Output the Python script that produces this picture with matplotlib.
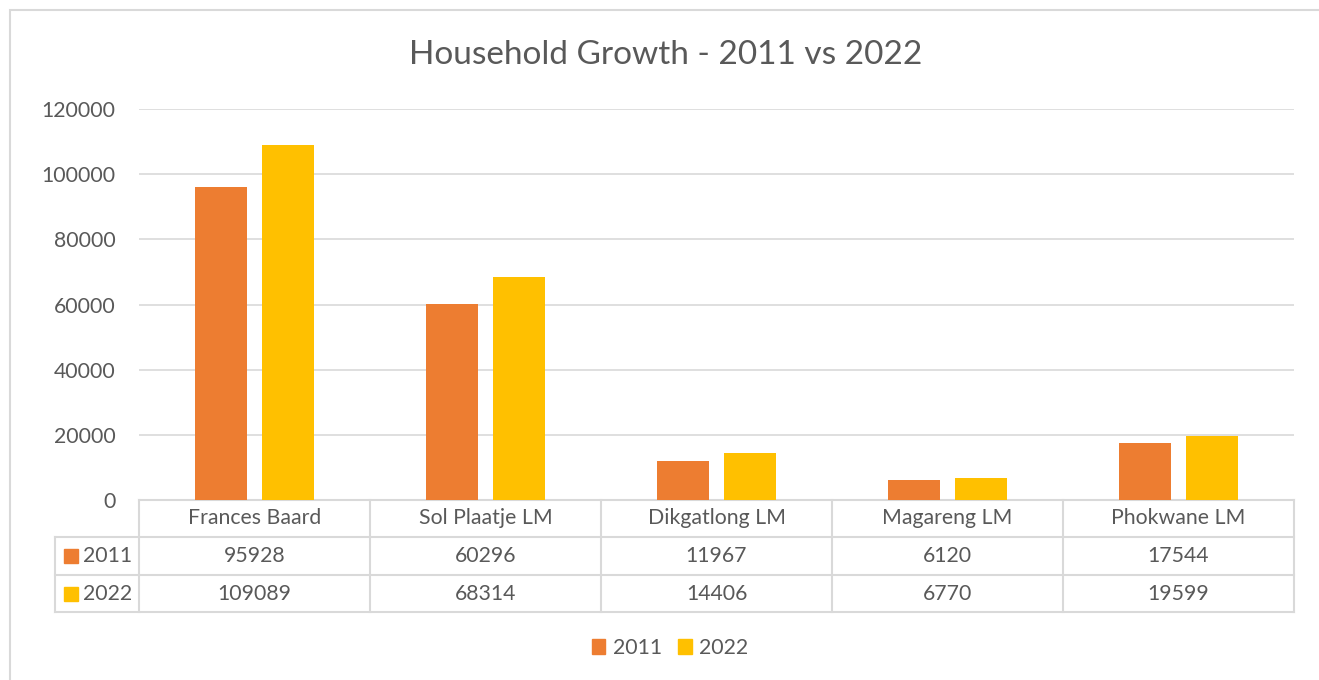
import matplotlib
matplotlib.use("Agg")
import matplotlib.pyplot as plt
import matplotlib.transforms as mtransforms
from matplotlib.patches import Patch, Rectangle
from matplotlib.lines import Line2D
import numpy as np

plt.rcParams['font.family'] = ['Lato', 'DejaVu Sans']

categories = ["Frances Baard", "Sol Plaatje LM", "Dikgatlong LM", "Magareng LM", "Phokwane LM"]
series_names = ["2011", "2022"]
values_2011 = [95928, 60296, 11967, 6120, 17544]
values_2022 = [109089, 68314, 14406, 6770, 19599]
yticks = [0, 20000, 40000, 60000, 80000, 100000, 120000]
title = "Household Growth - 2011 vs 2022"

c2011 = "#ED7D31"
c2022 = "#FFC000"
txt = "#595959"
grid = "#D9D9D9"
fs = 15.3

W, H = 1319, 680
fig = plt.figure(figsize=(W / 100, H / 100), dpi=100)
ax = fig.add_axes([139 / W, 1 - 500 / H, (1294 - 139) / W, (500 - 109) / H])

x = np.arange(len(categories))
bw = 0.225
off = 0.143
ax.bar(x - off, values_2011, bw, color=c2011, zorder=3)
ax.bar(x + off, values_2022, bw, color=c2022, zorder=3)

ax.set_xlim(-0.5, len(categories) - 0.5)
ax.set_ylim(0, 120000)
ax.set_yticks(yticks)
ax.set_yticklabels([str(v) for v in yticks])
ax.tick_params(axis='y', length=0, pad=17, labelsize=fs, labelcolor=txt)
ax.set_xticks([])
for s in ax.spines.values():
    s.set_visible(False)
ax.grid(axis='y', color=grid, lw=1.2, zorder=0)
ax.set_axisbelow(True)

fig.text(666 / W, 1 - 55 / H, title, ha='center', va='center', fontsize=24, color=txt)

# data table
tr = mtransforms.blended_transform_factory(ax.transData, ax.transAxes)
ah = 391.0
y0 = 0.0
y1 = -37 / ah
y2 = -75 / ah
y3 = -112 / ah
xl = -0.5 - 84 / 231.0
xr = len(categories) - 0.5
lk = dict(color=grid, lw=1.5, transform=tr, clip_on=False, zorder=1)
ax.add_line(Line2D([-0.5, xr], [y0, y0], **lk))
ax.add_line(Line2D([xl, xr], [y1, y1], **lk))
ax.add_line(Line2D([xl, xr], [y2, y2], **lk))
ax.add_line(Line2D([xl, xr], [y3, y3], **lk))
for i in range(len(categories) + 1):
    ax.add_line(Line2D([i - 0.5, i - 0.5], [y0, y3], **lk))
ax.add_line(Line2D([xl, xl], [y1, y3], **lk))

for i, c in enumerate(categories):
    ax.text(i, (y0 + y1) / 2, c, transform=tr, ha='center', va='center', fontsize=fs, color=txt)
    ax.text(i, (y1 + y2) / 2, str(values_2011[i]), transform=tr, ha='center', va='center', fontsize=fs, color=txt)
    ax.text(i, (y2 + y3) / 2, str(values_2022[i]), transform=tr, ha='center', va='center', fontsize=fs, color=txt)

for (ya, yb), name, col in [((y1, y2), series_names[0], c2011), ((y2, y3), series_names[1], c2022)]:
    ym = (ya + yb) / 2
    ax.add_patch(Rectangle((xl + 9 / 231.0, ym - 7 / ah), 14 / 231.0, 14 / ah, color=col,
                           transform=tr, clip_on=False))
    ax.text(xl + 28 / 231.0, ym, name, transform=tr, ha='left', va='center', fontsize=fs, color=txt)

# legend
handles = [Patch(color=c2011, label=series_names[0]), Patch(color=c2022, label=series_names[1])]
fig.legend(handles=handles, loc='center', bbox_to_anchor=(670 / W, 1 - 648 / H), ncol=2,
           frameon=False, fontsize=fs, labelcolor=txt, handlelength=0.65, handleheight=0.65,
           handletextpad=0.35, columnspacing=0.75)

# chart border
fig.patches.append(Rectangle((10 / W, -0.05), 1.1, 1 - 10 / H + 0.05, transform=fig.transFigure,
                             fill=False, edgecolor=grid, lw=1.5))

fig.savefig("out.png", dpi=100)
